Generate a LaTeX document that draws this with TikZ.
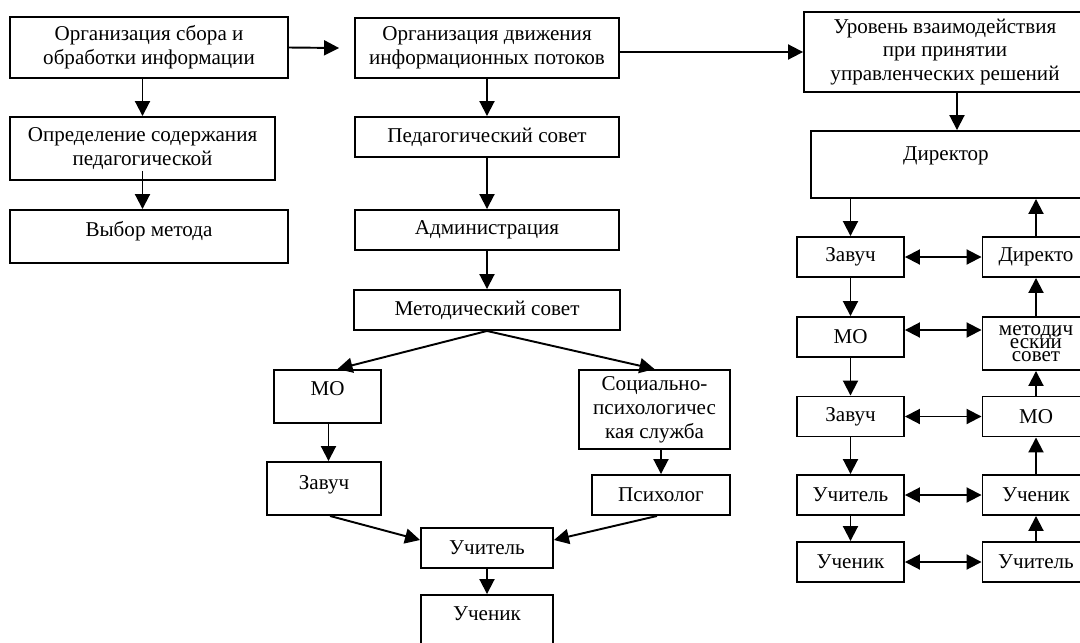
\documentclass[tikz,border=0pt]{standalone}
\usepackage{fontspec}
\setmainfont{Liberation Serif}
\usetikzlibrary{arrows.meta}

\newcommand{\tightlines}{\fontsize{12}{7.4}\selectfont\lineskiplimit=-20pt\relax\lineskip=0pt\relax}

\tikzset{
  box/.style={draw,line width=1.1pt,align=center,inner sep=0pt,
    font=\fontsize{12}{13.6}\selectfont},
  smallbox/.style={box,minimum width=2.14cm,minimum height=0.8cm}
}

\begin{document}
\begin{tikzpicture}[line cap=butt,line join=miter,>={Triangle[length=0.3cm,width=0.3cm]},line width=1.1pt,x=0.02cm,y=-0.02cm]
\clip(0,0) rectangle (1080,643);
% left column
\node [box,minimum width=5.56cm,minimum height=1.22cm] (orgsbor) at (149,47.5) {Организация сбора и\\обработки информации};
\node [box,minimum width=5.30cm,minimum height=1.26cm] (opredel) at (142.5,148.5) {Определение содержания\\педагогической};
\node [box,minimum width=5.56cm,text height=0.52cm,text depth=0.54cm] (vybor) at (149,236.5) {Выбор метода};
% middle column
\node [box,minimum width=5.28cm,minimum height=1.2cm] (orgdvizh) at (487,48) {Организация движения\\информационных потоков};
\node [box,minimum width=5.28cm,minimum height=0.8cm] (pedsovet) at (487,137) {Педагогический совет};
\node [box,minimum width=5.28cm,minimum height=0.8cm] (admin) at (487,230) {Администрация};
\node [box,minimum width=5.32cm,minimum height=0.8cm] (metsovet) at (487,310) {Методический совет};
\node [box,minimum width=2.14cm,text height=0.5cm,text depth=0.56cm] (mo) at (327.5,396.5) {МО};
\node [box,minimum width=2.28cm,text height=0.54cm,text depth=0.52cm] (zavuch) at (324,488.5) {Завуч};
\node [box,minimum width=3.02cm,minimum height=1.58cm] (soc) at (654.5,409.5) {Социально-\\психологичес\\кая служба};
\node [box,minimum width=2.76cm,minimum height=0.8cm] (psych) at (661,495) {Психолог};
\node [box,minimum width=2.64cm,minimum height=0.8cm] (uchitel) at (487,548) {Учитель};
\node [box,minimum width=2.64cm,text height=0.5cm,text depth=0.7cm] (uchenik) at (487,625) {Ученик};
% right column
\node [box,minimum width=5.64cm,minimum height=1.6cm] (ur) at (945,52) {Уровень взаимодействия\\при принятии\\управленческих решений};
\node [box,minimum width=5.4cm,text height=0.58cm,text depth=0.76cm] (director) at (946,164.5) {Директор};
\node [smallbox] (zav1) at (850.5,257) {Завуч};
\node [smallbox] (mo1) at (850.5,337) {МО};
\node [smallbox] (zav2) at (850.5,416.5) {Завуч};
\node [smallbox] (uch1) at (850.5,495) {Учитель};
\node [smallbox] (uchen1) at (850.5,562) {Ученик};
\node [smallbox] (dir2) at (1036,257) {Директо};
\node [smallbox,minimum height=1.06cm,font=\tightlines] (met2) at (1036,343.5) {методич\\еский\\совет};
\node [smallbox] (mo2) at (1036,416.5) {МО};
\node [smallbox] (uchen2) at (1036,495) {Ученик};
\node [smallbox] (uch2) at (1036,562) {Учитель};
% connectors, left and middle
\draw [->] (opredel.north |- orgsbor.south) -- (opredel.north);
\draw [->] ([yshift=0.2cm]opredel.south) -- (vybor.north -| opredel.south);
\draw [->] (orgsbor.east) -- ([xshift=-0.3cm]orgdvizh.west);
\draw [->] (orgdvizh.east |- ur.west) -- (ur.west);
\draw [->] (orgdvizh) -- (pedsovet);
\draw [->] (pedsovet) -- (admin);
\draw [->] (admin) -- (metsovet);
\draw [->] (metsovet.south) -- ([xshift=0.2cm]mo.north);
\draw [->] (metsovet.south) -- (soc.north);
\draw [->] ([xshift=0.02cm]mo.south) -- ([xshift=0.02cm]mo.south |- zavuch.north);
\draw [->] (soc.south -| psych.north) -- (psych.north);
\draw [->] ([xshift=0.12cm]zavuch.south) -- ([yshift=0.16cm]uchitel.west);
\draw [->] ([xshift=-0.08cm]psych.south) -- ([yshift=0.16cm]uchitel.east);
\draw [->] (uchitel) -- (uchenik);
% connectors, right
\draw [->] ([xshift=0.24cm]ur.south) -- ([xshift=0.24cm]ur.south |- director.north);
\draw [->] (zav1.north |- director.south) -- (zav1.north);
\draw [->] (zav1) -- (mo1);
\draw [->] (mo1) -- (zav2);
\draw [->] (zav2) -- (uch1);
\draw [->] (uch1) -- (uchen1);
\draw [->] (uch2) -- (uchen2);
\draw [->] (uchen2) -- (mo2);
\draw [->] (mo2) -- (met2);
\draw [->] (met2) -- (dir2);
\draw [->] (dir2.north) -- (dir2.north |- director.south);
\draw [<->] (zav1) -- (dir2);
\draw [<->] ([yshift=0.14cm]mo1.east) -- ([yshift=0.14cm]mo1.east -| met2.west);
\draw [<->] (zav2) -- (mo2);
\draw [<->] (uch1) -- (uchen2);
\draw [<->] (uchen1) -- (uch2);
\end{tikzpicture}
\end{document}
